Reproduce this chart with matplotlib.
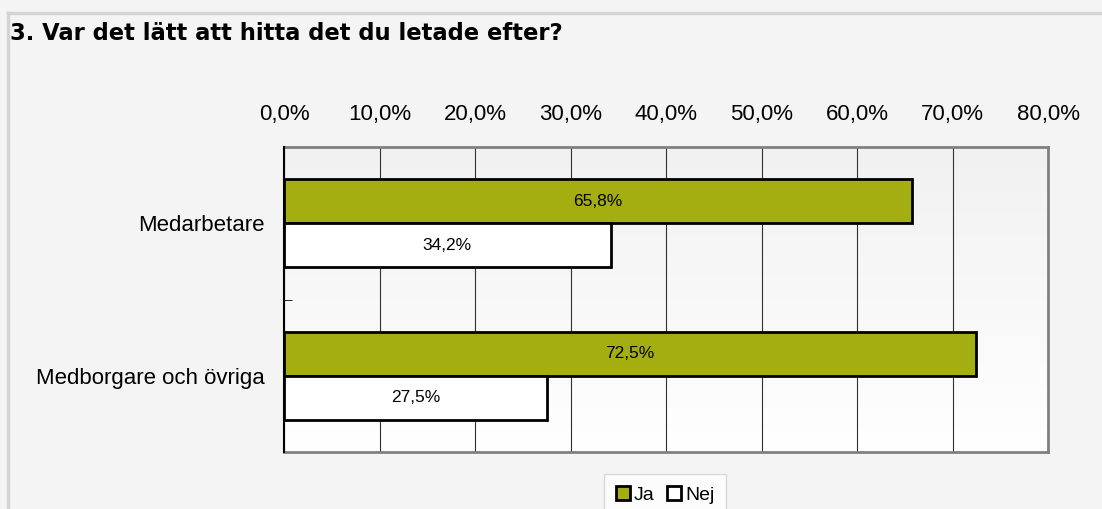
import matplotlib
matplotlib.use("Agg")
import matplotlib.pyplot as plt
import numpy as np
from matplotlib.patches import Patch
from matplotlib.lines import Line2D
from matplotlib.colors import LinearSegmentedColormap

title = "3. Var det lätt att hitta det du letade efter?"
categories = ["Medarbetare", "Medborgare och övriga"]
series_names = ["Ja", "Nej"]
ja_values = [65.8, 72.5]
nej_values = [34.2, 27.5]
xticks = [0, 10, 20, 30, 40, 50, 60, 70, 80]
xtick_labels = ["0,0%", "10,0%", "20,0%", "30,0%", "40,0%", "50,0%", "60,0%", "70,0%", "80,0%"]

W, H = 1102, 509
fig = plt.figure(figsize=(W / 100, H / 100), dpi=100)
fig.patch.set_facecolor("#f4f4f4")

# outer frame lines
fig.add_artist(Line2D([8 / W, 1], [1 - 13 / H, 1 - 13 / H], color="#d4d4d4", lw=2.5, transform=fig.transFigure))
fig.add_artist(Line2D([8 / W, 8 / W], [1 - 13 / H, 0], color="#d4d4d4", lw=2.5, transform=fig.transFigure))

fig.text(10 / W, 1 - 33 / H, title, fontsize=16.3, fontweight="bold", family="DejaVu Sans",
         ha="left", va="center", color="#000000")

ax = fig.add_axes([284 / W, 1 - 452 / H, (1048 - 284) / W, (452 - 147) / H])
ax.set_facecolor("none")

# gradient background
grad = np.linspace(0, 1, 256).reshape(-1, 1)
cmap = LinearSegmentedColormap.from_list("g", ["#f1f1f1", "#ffffff"])
ax.imshow(grad, aspect="auto", cmap=cmap, extent=[0, 80, 1.5, -0.5], zorder=0)

ypos = np.arange(len(categories))
h = 0.288
ja_color = "#a5ae10"
bars_ja = ax.barh(ypos - h / 2, ja_values, height=h, color=ja_color, edgecolor="black", lw=2, zorder=3)
bars_nej = ax.barh(ypos + h / 2, nej_values, height=h, color="white", edgecolor="black", lw=2, zorder=3)

for bars, vals in [(bars_ja, ja_values), (bars_nej, nej_values)]:
    for b, v in zip(bars, vals):
        ax.text(v / 2, b.get_y() + b.get_height() / 2, f"{v:.1f}%".replace(".", ","),
                ha="center", va="center", fontsize=12.5, family="Liberation Sans", zorder=4)

ax.set_xlim(0, 80)
ax.set_ylim(1.5, -0.5)
ax.set_xticks(xticks)
ax.set_xticklabels(xtick_labels, family="Liberation Sans", fontsize=16)
ax.xaxis.tick_top()
ax.tick_params(axis="x", length=0, pad=16)
ax.grid(axis="x", color="#303030", lw=0.8, zorder=1)
ax.set_axisbelow(True)

ax.set_yticks(ypos)
ax.set_yticklabels(categories, family="Liberation Sans", fontsize=16)
ax.tick_params(axis="y", length=0, pad=14)
ax.set_yticks([0.5], minor=True)
ax.tick_params(axis="y", which="minor", length=6, direction="in", color="black")

for s in ["top", "right", "bottom"]:
    ax.spines[s].set_color("#808080")
    ax.spines[s].set_linewidth(2)
ax.spines["left"].set_color("black")
ax.spines["left"].set_linewidth(1.5)
ax.spines["left"].set_zorder(5)

handles = [Patch(facecolor=ja_color, edgecolor="black", lw=2, label="Ja"),
           Patch(facecolor="white", edgecolor="black", lw=2, label="Nej")]
leg = fig.legend(handles=handles, loc="upper center", bbox_to_anchor=(665 / W, 1 - 474 / H),
                 ncol=2, frameon=True, fancybox=False, handlelength=0.75, handleheight=0.75,
                 handletextpad=0.2, columnspacing=0.6, borderpad=0.6, borderaxespad=0,
                 prop={"family": "Liberation Sans", "size": 14})
leg.get_frame().set_edgecolor("#d0d0d0")
leg.get_frame().set_linewidth(1)
leg.get_frame().set_facecolor("white")

fig.savefig("out.png", dpi=100, facecolor=fig.get_facecolor())
